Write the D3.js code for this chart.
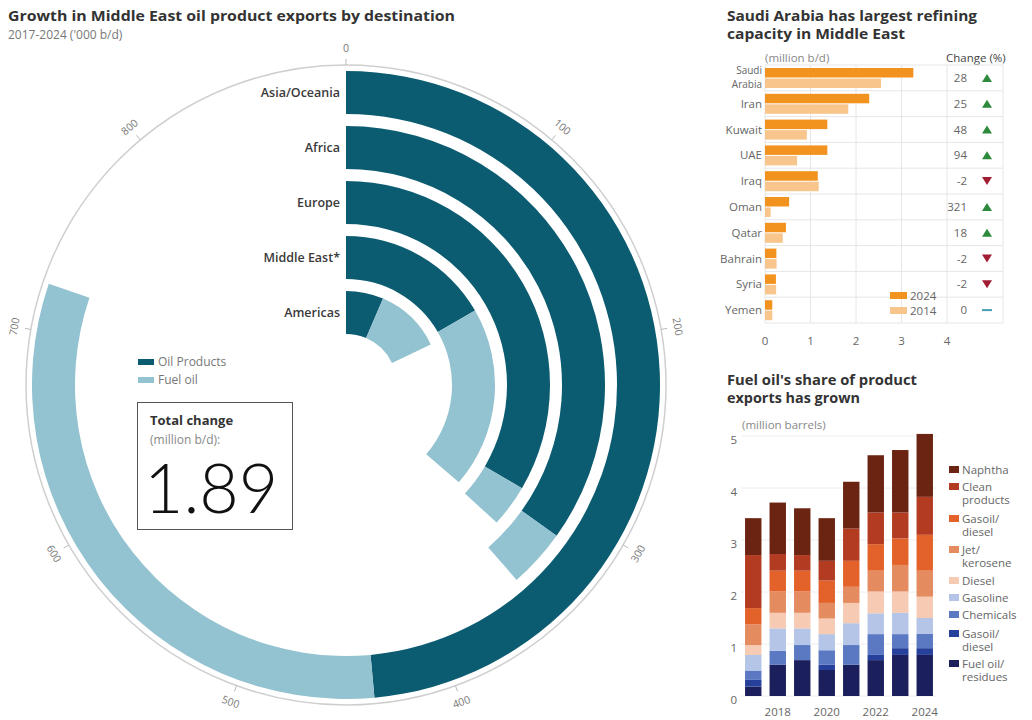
<!DOCTYPE html>
<html>
<head>
<meta charset="utf-8">
<script src="https://cdn.jsdelivr.net/npm/d3@7"></script>
<style>
  body { margin: 0; background: #fff; }
  svg { display: block; font-family: "Open Sans", Lato, sans-serif; }
</style>
</head>
<body>
<svg id="chart" width="1032" height="720"></svg>
<script>
// ---------- Export growth by destination, 2017-2024 ('000 b/d)
const destinations = ["Asia/Oceania", "Africa", "Europe", "Middle East*", "Americas"];
const oilProducts = [437, 314, 301, 150, 58];
const fuelOil = [285, 33, 30, 177, 103];
const ringTicks = [0, 100, 200, 300, 400, 500, 600, 700, 800];
const ringMax = 900;
const totalChange = "1.89";

// ---------- Refining capacity (million b/d)
const countries = ["Saudi Arabia", "Iran", "Kuwait", "UAE", "Iraq", "Oman", "Qatar", "Bahrain", "Syria", "Yemen"];
const capacity2024 = [3.26, 2.29, 1.37, 1.37, 1.16, 0.53, 0.46, 0.25, 0.24, 0.16];
const capacity2014 = [2.55, 1.83, 0.92, 0.705, 1.18, 0.125, 0.39, 0.255, 0.245, 0.16];
const changePct = [28, 25, 48, 94, -2, 321, 18, -2, -2, 0];
const capacityTicks = [0, 1, 2, 3, 4];

// ---------- Product exports (million barrels)
const years = [2017, 2018, 2019, 2020, 2021, 2022, 2023, 2024];
const fuelResidues = [0.18, 0.60, 0.69, 0.50, 0.60, 0.69, 0.79, 0.79];
const gasoilDieselBlue = [0.13, 0.00, 0.00, 0.10, 0.00, 0.10, 0.13, 0.13];
const chemicals = [0.18, 0.27, 0.29, 0.28, 0.38, 0.40, 0.27, 0.28];
const gasoline = [0.30, 0.43, 0.32, 0.31, 0.42, 0.40, 0.41, 0.30];
const diesel = [0.19, 0.30, 0.30, 0.30, 0.39, 0.42, 0.41, 0.41];
const jetKerosene = [0.40, 0.41, 0.41, 0.30, 0.31, 0.40, 0.51, 0.50];
const gasoilDieselOrange = [0.31, 0.40, 0.40, 0.43, 0.50, 0.51, 0.51, 0.69];
const cleanProducts = [1.02, 0.32, 0.30, 0.38, 0.62, 0.61, 0.50, 0.73];
const naphtha = [0.71, 0.99, 0.90, 0.82, 0.90, 1.10, 1.20, 1.21];
const yearTicks = [2018, 2020, 2022, 2024];
const valueTicks = [0, 1, 2, 3, 4, 5];

const svg = d3.select("#chart");
const TXT = "#333", GREY = "#666";

function title(x, y, str, len) {
  svg.append("text").attr("x", x).attr("y", y)
    .attr("font-size", 14).attr("font-weight", 700).attr("fill", TXT)
    .attr("textLength", len).attr("lengthAdjust", "spacingAndGlyphs")
    .text(str);
}

// ================= Radial chart =================
{
  const cx = 346, cy = 385, R = 320;
  const DARK = "#0b5c71", LIGHT = "#93c2d0";

  title(8, 21, "Growth in Middle East oil product exports by destination", 447);
  svg.append("text").attr("x", 8).attr("y", 39)
    .attr("font-size", 12).attr("fill", "#777")
    .text("2017-2024 ('000 b/d)");

  const g = svg.append("g").attr("transform", `translate(${cx},${cy})`);
  const angle = d3.scaleLinear().domain([0, ringMax]).range([0, 2 * Math.PI]);

  g.append("circle").attr("r", R).attr("fill", "none")
    .attr("stroke", "#cfcfcf").attr("stroke-width", 1.5);

  // tick marks and labels around the rim
  ringTicks.forEach(t => {
    const a = angle(t);
    const s = Math.sin(a), c = -Math.cos(a);
    g.append("line")
      .attr("x1", R * s).attr("y1", R * c)
      .attr("x2", (R + 6) * s).attr("y2", (R + 6) * c)
      .attr("stroke", "#bbb").attr("stroke-width", 1);
    const deg = a * 180 / Math.PI;
    const rot = (deg > 90 && deg < 270) ? deg - 180 : deg;
    const lr = R + 17;
    g.append("text")
      .attr("transform", `translate(${lr * s},${lr * c}) rotate(${rot})`)
      .attr("text-anchor", "middle").attr("dominant-baseline", "central")
      .attr("font-size", 10.5).attr("fill", "#777")
      .text(t);
  });

  const thick = 43;
  const arc = d3.arc()
    .innerRadius(d => d.r1 - thick)
    .outerRadius(d => d.r1)
    .startAngle(d => angle(d.start))
    .endAngle(d => angle(d.end));

  const segs = [];
  destinations.forEach((name, i) => {
    const r1 = 314 - i * 55;
    segs.push({ name, r1, start: 0, end: oilProducts[i], fill: DARK });
    segs.push({ name, r1, start: oilProducts[i], end: oilProducts[i] + fuelOil[i], fill: LIGHT });
  });
  g.selectAll("path.seg").data(segs).join("path")
    .attr("class", "seg").attr("d", arc).attr("fill", d => d.fill);

  destinations.forEach((name, i) => {
    const r1 = 314 - i * 55;
    g.append("text")
      .attr("x", -6).attr("y", -(r1 - thick / 2) + 4)
      .attr("text-anchor", "end").attr("font-size", 12.5).attr("font-weight", 600)
      .attr("fill", "#3a3a3a").text(name);
  });

  // legend
  const lg = [["Oil Products", DARK], ["Fuel oil", LIGHT]];
  lg.forEach(([lab, col], i) => {
    svg.append("rect").attr("x", 138).attr("y", 359 + i * 18).attr("width", 16).attr("height", 6).attr("fill", col);
    svg.append("text").attr("x", 158).attr("y", 366 + i * 18)
      .attr("font-size", 12).attr("fill", "#777").text(lab);
  });

  // total box
  svg.append("rect").attr("x", 137.5).attr("y", 402.5).attr("width", 155).attr("height", 127)
    .attr("fill", "#fff").attr("stroke", "#555").attr("stroke-width", 1);
  svg.append("text").attr("x", 150).attr("y", 425).attr("font-size", 13)
    .attr("font-weight", 700).attr("fill", TXT).text("Total change");
  svg.append("text").attr("x", 150).attr("y", 444).attr("font-size", 12)
    .attr("fill", "#888").text("(million b/d):");
  svg.append("text").attr("x", 144).attr("y", 513).attr("font-size", 68)
    .attr("font-family", "Lato, 'Open Sans', sans-serif")
    .attr("font-weight", 300).attr("fill", "#111").text(totalChange);
}

// ================= Refining capacity bars =================
{
  title(727, 21, "Saudi Arabia has largest refining", 250);
  title(727, 39, "capacity in Middle East", 178);
  svg.append("text").attr("x", 765).attr("y", 62).attr("font-size", 11.5)
    .attr("fill", "#888").text("(million b/d)");
  svg.append("text").attr("x", 946).attr("y", 62).attr("font-size", 11.5)
    .attr("fill", "#444").text("Change (%)");

  const x = d3.scaleLinear().domain([0, 4]).range([765, 947]);
  const y = d3.scaleBand().domain(countries).range([65, 323]);
  const g = svg.append("g");

  // grid
  g.selectAll("line.v").data(capacityTicks).join("line")
    .attr("x1", d => x(d)).attr("x2", d => x(d)).attr("y1", 65).attr("y2", 323)
    .attr("stroke", "#e6e6e6");
  g.append("line").attr("x1", 1003).attr("x2", 1003).attr("y1", 65).attr("y2", 323).attr("stroke", "#e6e6e6");
  const bounds = countries.map(c => y(c)).concat([323]);
  g.selectAll("line.h").data(bounds).join("line")
    .attr("x1", 765).attr("x2", 1003).attr("y1", d => d).attr("y2", d => d)
    .attr("stroke", "#e6e6e6");

  const bh = 9.5;
  g.selectAll("rect.b24").data(countries).join("rect")
    .attr("x", x(0)).attr("y", d => y(d) + 3)
    .attr("width", (d, i) => x(capacity2024[i]) - x(0)).attr("height", bh)
    .attr("fill", "#f3931f");
  g.selectAll("rect.b14").data(countries).join("rect")
    .attr("x", x(0)).attr("y", d => y(d) + 3 + bh + 1)
    .attr("width", (d, i) => x(capacity2014[i]) - x(0)).attr("height", bh)
    .attr("fill", "#f8c68c");

  countries.forEach((c, i) => {
    const cyr = y(c) + y.bandwidth() / 2;
    if (c === "Saudi Arabia") {
      g.append("text").attr("x", 762).attr("y", cyr - 4).attr("text-anchor", "end")
        .attr("font-size", 10).attr("fill", GREY).text("Saudi");
      g.append("text").attr("x", 762).attr("y", cyr + 10).attr("text-anchor", "end")
        .attr("font-size", 10).attr("fill", GREY).text("Arabia");
    } else {
      g.append("text").attr("x", 762).attr("y", cyr + 4).attr("text-anchor", "end")
        .attr("font-size", 11.5).attr("fill", GREY).text(c);
    }
    g.append("text").attr("x", 967).attr("y", cyr + 4).attr("text-anchor", "end")
      .attr("font-size", 11.5).attr("fill", GREY).text(changePct[i]);
    const v = changePct[i], tx = 987;
    if (v > 0) {
      g.append("path").attr("d", `M${tx - 5},${cyr + 4}L${tx + 5},${cyr + 4}L${tx},${cyr - 4}Z`).attr("fill", "#2d8a3c");
    } else if (v < 0) {
      g.append("path").attr("d", `M${tx - 5},${cyr - 4}L${tx + 5},${cyr - 4}L${tx},${cyr + 4}Z`).attr("fill", "#a11d33");
    } else {
      g.append("line").attr("x1", tx - 5).attr("x2", tx + 5).attr("y1", cyr).attr("y2", cyr)
        .attr("stroke", "#4a9cb5").attr("stroke-width", 2);
    }
  });

  g.selectAll("text.tick").data(capacityTicks).join("text")
    .attr("x", d => x(d)).attr("y", 345).attr("text-anchor", "middle")
    .attr("font-size", 11.5).attr("fill", GREY).text(d => d);

  // legend
  [["2024", "#f3931f"], ["2014", "#f8c68c"]].forEach(([lab, col], i) => {
    g.append("rect").attr("x", 890).attr("y", 292 + i * 15).attr("width", 17).attr("height", 7).attr("fill", col);
    g.append("text").attr("x", 910).attr("y", 300 + i * 15).attr("font-size", 11.5).attr("fill", GREY).text(lab);
  });
}

// ================= Product exports stacked bars =================
{
  title(727, 385, "Fuel oil's share of product", 190);
  title(727, 403, "exports has grown", 133);
  svg.append("text").attr("x", 742).attr("y", 429).attr("font-size", 11.5)
    .attr("fill", "#888").text("(million barrels)");

  const series = [
    { key: "fuel", label: ["Fuel oil/", "residues"], values: fuelResidues, color: "#1b1f5c" },
    { key: "gdb", label: ["Gasoil/", "diesel"], values: gasoilDieselBlue, color: "#27409c" },
    { key: "chem", label: ["Chemicals"], values: chemicals, color: "#5b78c2" },
    { key: "gas", label: ["Gasoline"], values: gasoline, color: "#b4c5e8" },
    { key: "dsl", label: ["Diesel"], values: diesel, color: "#f6cab3" },
    { key: "jet", label: ["Jet/", "kerosene"], values: jetKerosene, color: "#e48b60" },
    { key: "gdo", label: ["Gasoil/", "diesel"], values: gasoilDieselOrange, color: "#e2622a" },
    { key: "clean", label: ["Clean", "products"], values: cleanProducts, color: "#b33b22" },
    { key: "nap", label: ["Naphtha"], values: naphtha, color: "#6c2412" }
  ];
  const rows = years.map((yr, i) => {
    const o = { year: yr };
    series.forEach(s => o[s.key] = s.values[i]);
    return o;
  });
  const stack = d3.stack().keys(series.map(s => s.key))(rows);

  const x = d3.scaleBand().domain(years).range([741, 937]).paddingInner(0.33).paddingOuter(0.165);
  const y = d3.scaleLinear().domain([0, 5]).range([696, 436]);
  const g = svg.append("g");

  g.selectAll("line.grid").data(valueTicks).join("line")
    .attr("x1", 741).attr("x2", 937).attr("y1", d => y(d)).attr("y2", d => y(d))
    .attr("stroke", "#eeeeee");
  g.selectAll("text.yt").data(valueTicks).join("text")
    .attr("x", 737).attr("y", d => y(d) + 8).attr("text-anchor", "end")
    .attr("font-size", 11.5).attr("fill", GREY).text(d => d);

  stack.forEach((layer, li) => {
    g.selectAll(null).data(layer).join("rect")
      .attr("x", d => x(d.data.year)).attr("width", x.bandwidth())
      .attr("y", d => y(d[1])).attr("height", d => y(d[0]) - y(d[1]))
      .attr("fill", series[li].color);
  });

  g.selectAll("text.xt").data(yearTicks).join("text")
    .attr("x", d => x(d) + x.bandwidth() / 2).attr("y", 716).attr("text-anchor", "middle")
    .attr("font-size", 11.5).attr("fill", GREY).text(d => d);

  // legend, top of stack first
  const legendY = [470, 487, 519, 550, 581, 598, 615, 634, 664];
  series.slice().reverse().forEach((s, i) => {
    const ly = legendY[i];
    g.append("rect").attr("x", 949).attr("y", ly - 4).attr("width", 10).attr("height", 7).attr("fill", s.color);
    s.label.forEach((t, k) => {
      g.append("text").attr("x", 962).attr("y", ly + 4 + k * 13)
        .attr("font-size", 11.5).attr("fill", GREY).text(t);
    });
  });
}
</script>
</body>
</html>
